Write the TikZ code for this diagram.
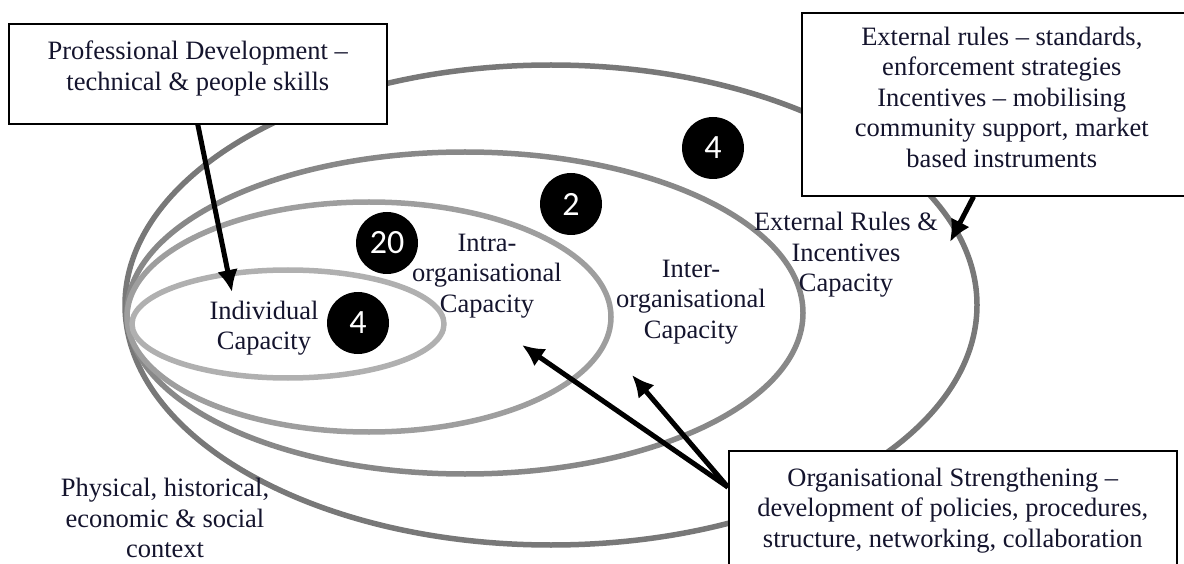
\documentclass[tikz,border=0pt]{standalone}
\usepackage{fontspec}
\setmainfont{Liberation Serif}
\newfontfamily\numfont{Carlito}
\usetikzlibrary{arrows.meta,positioning}
\definecolor{ringdark}{RGB}{120,120,120}
\definecolor{ringmid}{RGB}{136,136,136}
\definecolor{ringlight}{RGB}{158,158,158}
\definecolor{ringpale}{RGB}{176,176,176}
\definecolor{inkblue}{RGB}{20,20,45}

\begin{document}
\begin{tikzpicture}[x=1pt,y=-1pt,
  ring/.style={line width=5.5pt},
  lbl/.style={align=center,inner sep=0pt,text=inkblue,font=\fontsize{26.5}{30.5}\selectfont},
  box/.style={draw=black,line width=1.6pt,fill=white,align=center,inner sep=0pt,text depth=14pt,text=inkblue,font=\fontsize{26.5}{30.5}\selectfont},
  num/.style={circle,fill=black,text=white,minimum size=62pt,inner sep=0pt,font=\numfont\fontsize{34}{34}\selectfont},
  arr/.style={line width=5pt,-{Latex[length=22pt,width=21pt]}}]
\useasboundingbox (0,0) rectangle (1184,564);
% capacity rings
\draw[ring,ringdark] (551,305) ellipse [x radius=426pt,y radius=240pt];
\draw[ring,ringmid] (465,313) ellipse [x radius=338pt,y radius=161pt];
\draw[ring,ringlight] (369,317) ellipse [x radius=242pt,y radius=115pt];
\draw[ring,ringpale] (288,324) ellipse [x radius=156pt,y radius=54pt];
% ring labels
\node[lbl] (lab1) at (264,328) {Individual\\Capacity};
\node[lbl] (lab2) at (487,276) {Intra-\\organisational\\Capacity};
\node[lbl] (lab3) at (691,302) {Inter-\\organisational\\Capacity};
\node[lbl] (lab4) at (846,255) {External Rules \&\\Incentives\\Capacity};
\node[lbl] (lab5) at (165,518) {Physical, historical,\\economic \& social\\context};
% counts
\node[num] (num1) at (358,323) {4};
\node[num] (num2) at (387,243) {20};
\node[num] (num3) at (571,204) {2};
\node[num] (num4) at (713,148) {4};
% boxes
\node[box,anchor=north west,minimum width=378pt,minimum height=100pt,text depth=16pt] (box1) at (8,23)
  {Professional Development --\\technical \& people skills};
\node[box,anchor=north west,minimum width=400pt,minimum height=183pt] (box2) at (801,12)
  {External rules -- standards,\\enforcement strategies\\Incentives -- mobilising\\community support, market\\based instruments};
\node[box,anchor=north west,minimum width=448pt,minimum height=128pt] (box3) at (728,450)
  {Organisational Strengthening --\\development of policies, procedures,\\structure, networking, collaboration};
% arrow ends
\coordinate (tip1) at (232,292);
\coordinate (tip2) at (950,242);
\coordinate (tip3) at (522,345);
\coordinate (tip4) at (632,375);
\draw[arr] (box1.south) -- (tip1);
\draw[arr] (box2.253) -- (tip2);
\draw[arr] (box3.173) -- (tip3);
\draw[arr] (box3.173) -- (tip4);
\end{tikzpicture}
\end{document}
